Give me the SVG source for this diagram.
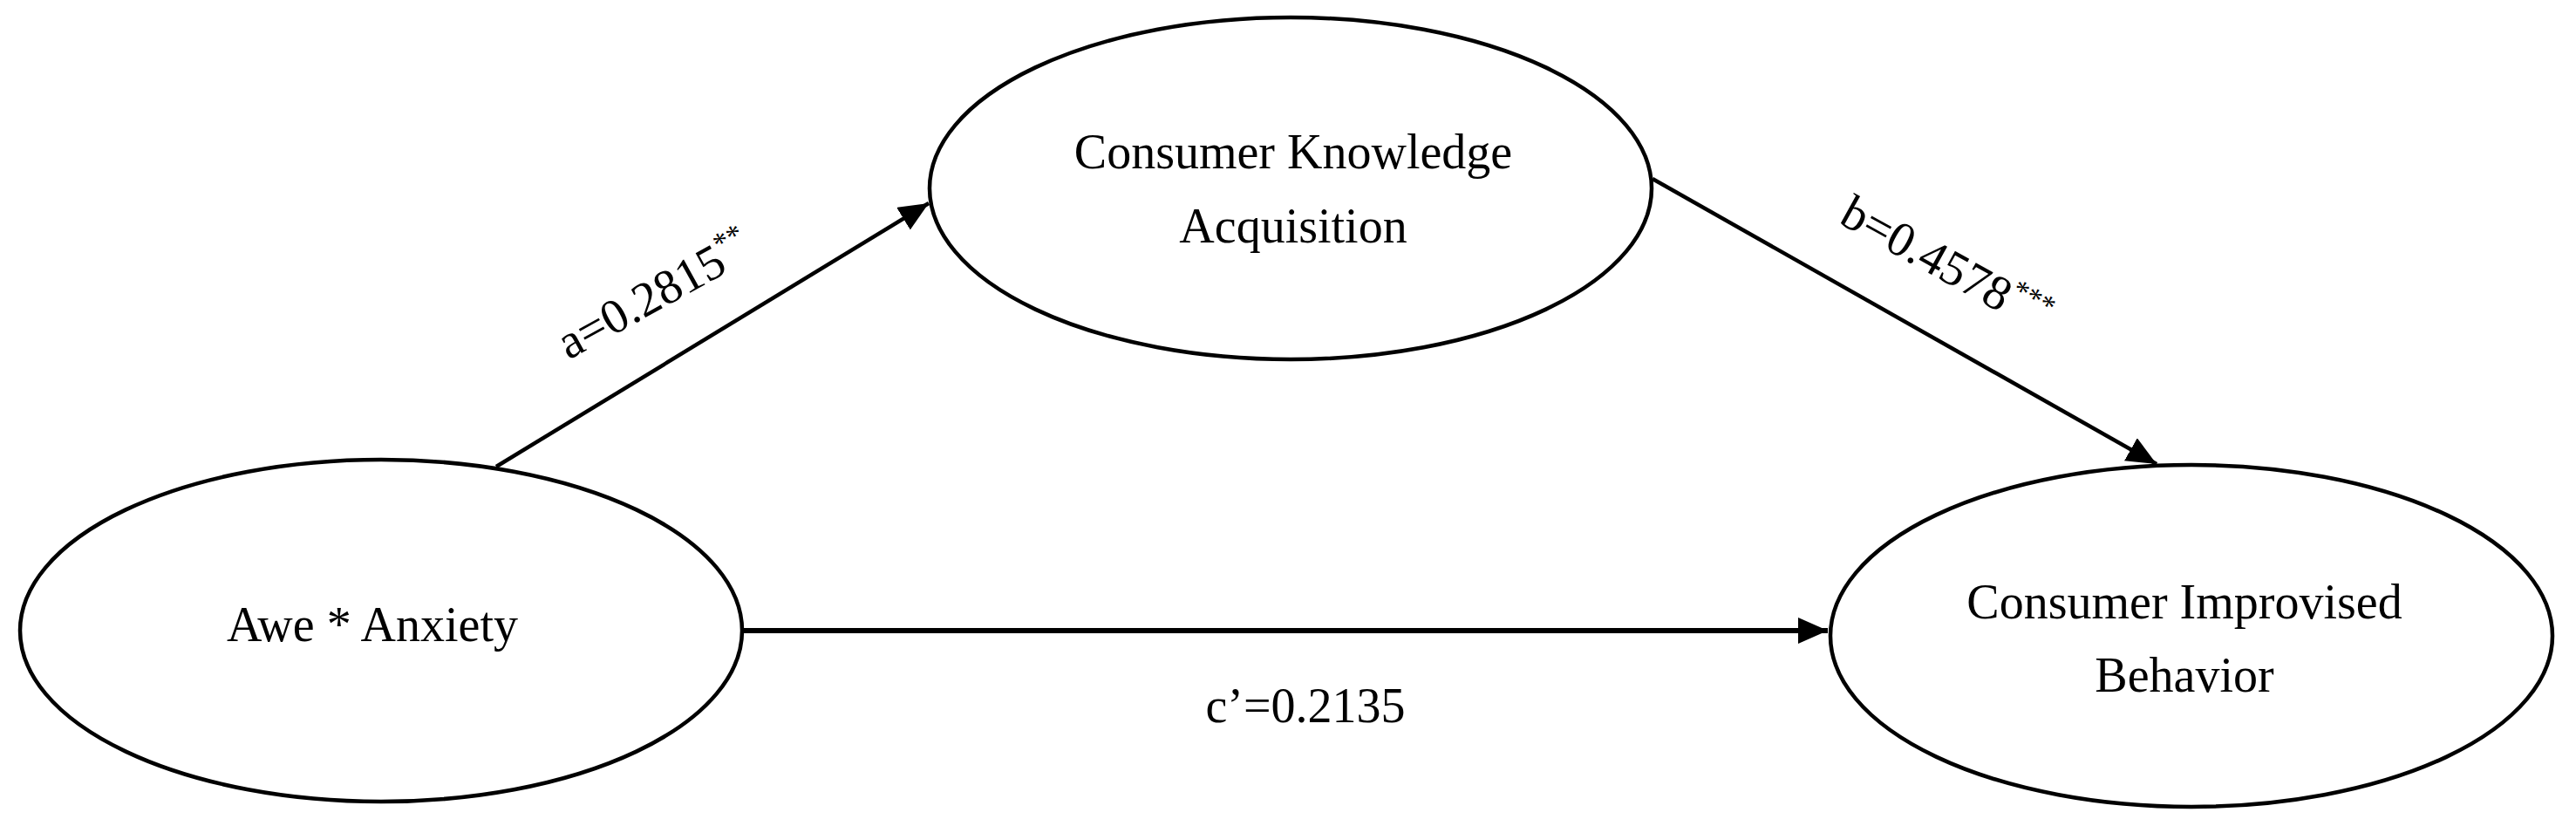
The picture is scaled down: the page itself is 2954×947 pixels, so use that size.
<svg xmlns="http://www.w3.org/2000/svg" width="2954" height="947" viewBox="0 0 2954 947">
<style>
.node ellipse{fill:#fff;stroke:#000;stroke-width:4.5}
text{font-family:"Liberation Serif","Times New Roman",serif;font-size:56px;fill:#000}
.nt{text-anchor:middle}
.conn line{stroke:#000;stroke-width:4.5}
.sup{font-size:34px}
</style>
<defs>
<marker id="ah" markerUnits="userSpaceOnUse" markerWidth="36" markerHeight="30" refX="34" refY="15" orient="auto">
<path d="M0,0 L34,15 L0,30 Z" fill="#000"/>
</marker>
</defs>
<rect width="2954" height="947" fill="#fff"/>
<g id="connectors" class="conn">
<line id="edge-a" x1="569" y1="535" x2="1065" y2="233" marker-end="url(#ah)"/>
<line id="edge-b" x1="1895" y1="205" x2="2473" y2="532" marker-end="url(#ah)"/>
<line id="edge-c" x1="851" y1="723" x2="2096" y2="723" style="stroke-width:6" marker-end="url(#ah)"/>
<text id="label-a" transform="translate(652,413) rotate(-29)">a=0.2815<tspan class="sup" dy="-22">**</tspan></text>
<text id="label-b" transform="translate(2107,255) rotate(29)">b=0.4578<tspan class="sup" dy="-22">***</tspan></text>
<text id="label-c" class="nt" x="1497" y="828">c’=0.2135</text>
</g>
<g id="node-awe-anxiety" class="node">
<ellipse cx="437" cy="723" rx="414" ry="196"/>
<text class="nt" x="427" y="735">Awe * Anxiety</text>
</g>
<g id="node-knowledge" class="node">
<ellipse cx="1480" cy="216" rx="414" ry="196"/>
<text class="nt" x="1483" y="193">Consumer Knowledge</text>
<text class="nt" x="1483" y="278">Acquisition</text>
</g>
<g id="node-improvised" class="node">
<ellipse cx="2513" cy="729" rx="414" ry="196"/>
<text class="nt" x="2505" y="709">Consumer Improvised</text>
<text class="nt" x="2505" y="793">Behavior</text>
</g>
</svg>
